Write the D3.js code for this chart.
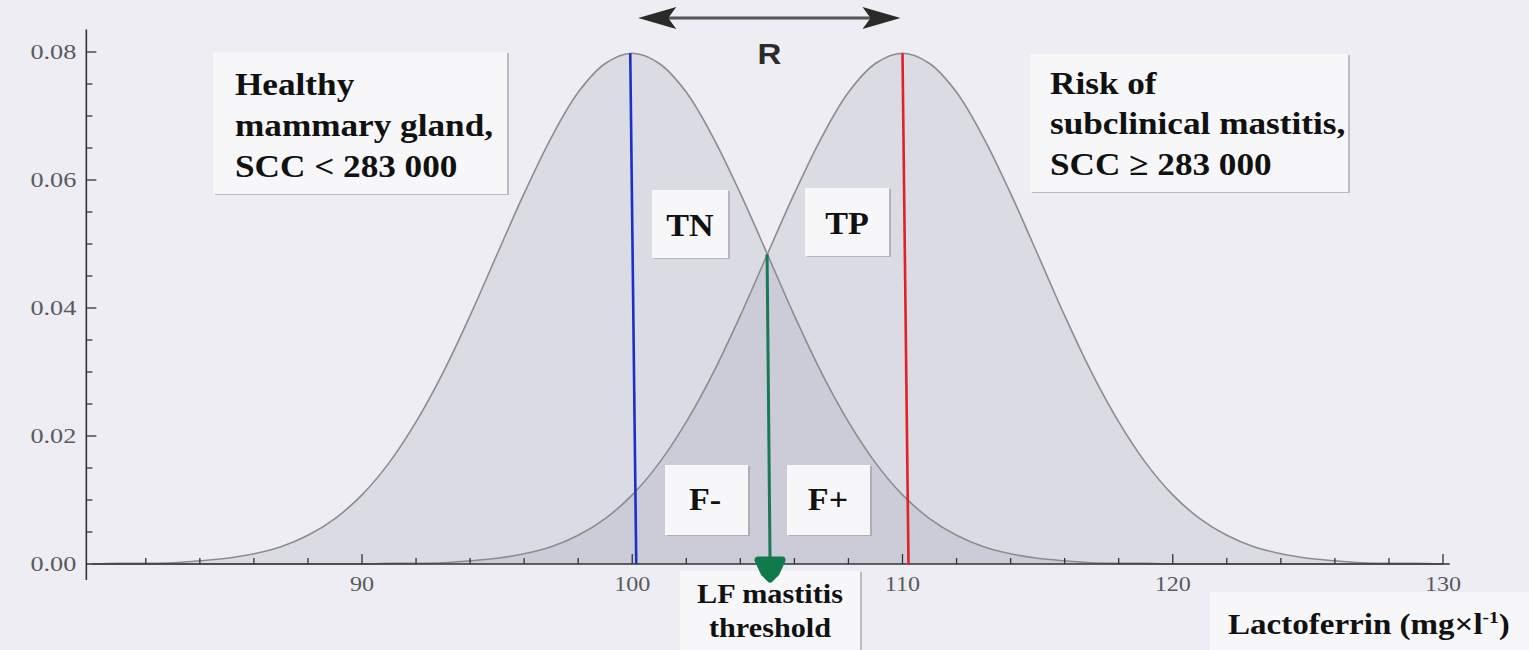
<!DOCTYPE html>
<html lang="en">
<head>
    <meta charset="UTF-8">
    <title>Lactoferrin threshold</title>
    <script src="https://cdn.jsdelivr.net/npm/d3@7"></script>
    <style>
        body { margin: 0; background: #ededf3; }
        svg { display: block; }
        .tick-label { font-family: "Liberation Serif", "DejaVu Serif", serif; fill: #5a5a5e; font-size: 21px; }
        .box-text { font-family: "Liberation Serif", serif; font-weight: bold; fill: #111; }
    </style>
</head>
<body>
<div id="chart"></div>

<script>
    // x grid (mg/l) and the two density curves
    const lactoferrin = d3.range(80, 131);
    const healthy = [
        0.0000, 0.0001, 0.0001, 0.0002, 0.0005, 0.0009, 0.0016, 0.0027, 0.0045, 0.0071,
        0.0108, 0.0158, 0.0222, 0.0299, 0.0388, 0.0484, 0.0579, 0.0666, 0.0737, 0.0782,
        0.0798, 0.0782, 0.0737, 0.0666, 0.0579, 0.0484, 0.0388, 0.0299, 0.0222, 0.0158,
        0.0108, 0.0071, 0.0045, 0.0027, 0.0016, 0.0009, 0.0005, 0.0002, 0.0001, 0.0001,
        0.0000, 0.0000, 0.0000, 0.0000, 0.0000, 0.0000, 0.0000, 0.0000, 0.0000, 0.0000,
        0.0000
    ];
    const mastitis = [
        0.0000, 0.0000, 0.0000, 0.0000, 0.0000, 0.0000, 0.0000, 0.0000, 0.0000, 0.0000,
        0.0000, 0.0001, 0.0001, 0.0002, 0.0005, 0.0009, 0.0016, 0.0027, 0.0045, 0.0071,
        0.0108, 0.0158, 0.0222, 0.0299, 0.0388, 0.0484, 0.0579, 0.0666, 0.0737, 0.0782,
        0.0798, 0.0782, 0.0737, 0.0666, 0.0579, 0.0484, 0.0388, 0.0299, 0.0222, 0.0158,
        0.0108, 0.0071, 0.0045, 0.0027, 0.0016, 0.0009, 0.0005, 0.0002, 0.0001, 0.0001,
        0.0000
    ];
    const xTicks = [90, 100, 110, 120, 130];
    const yTicks = [0, 0.02, 0.04, 0.06, 0.08];
    const healthyMean = 100;
    const mastitisMean = 110;
    const threshold = 105.1;
    const thresholdDensity = 0.0484;

    const width = 1529, height = 650;
    const SX = 1.15; // the scan is stretched sideways a little
    const svg = d3.select("#chart").append("svg")
        .attr("width", width).attr("height", height);

    const x = d3.scaleLinear().domain([90, 130]).range([362, 1443]);
    const y = d3.scaleLinear().domain([0, 0.08]).range([564, 52]);
    const x0 = 79.8;

    // curves
    function areaFor(vals) {
        return d3.area()
            .x((d, i) => x(lactoferrin[i]))
            .y0(y(0))
            .y1(d => y(d))
            .curve(d3.curveCatmullRom)(vals);
    }
    function lineFor(vals) {
        return d3.line()
            .x((d, i) => x(lactoferrin[i]))
            .y(d => y(d))
            .curve(d3.curveCatmullRom)(vals);
    }

    [healthy, mastitis].forEach(function (vals) {
        svg.append("path").attr("d", areaFor(vals))
            .attr("fill", "#8a8aa0").attr("fill-opacity", 0.18);
    });
    [healthy, mastitis].forEach(function (vals) {
        svg.append("path").attr("d", lineFor(vals))
            .attr("fill", "none").attr("stroke", "#8c8c90").attr("stroke-width", 1.6);
    });

    // axes
    const axisG = svg.append("g").attr("stroke", "#333").attr("stroke-width", 1.6);
    axisG.append("line").attr("x1", x(x0)).attr("x2", x(130.25))
        .attr("y1", y(0)).attr("y2", y(0));
    axisG.append("line").attr("x1", x(x0)).attr("x2", x(x0))
        .attr("y1", y(0.0835)).attr("y2", y(0) + 16);

    axisG.selectAll("line.xt").data(d3.range(82, 131, 2)).enter().append("line")
        .attr("class", "xt")
        .attr("x1", d => x(d)).attr("x2", d => x(d))
        .attr("y1", y(0)).attr("y2", d => y(0) - (d % 10 === 0 ? 10 : 6))
        .attr("stroke-width", 1.3);
    axisG.selectAll("line.yt").data(d3.range(0.005, 0.0801, 0.005)).enter().append("line")
        .attr("class", "yt")
        .attr("y1", d => y(d)).attr("y2", d => y(d))
        .attr("x1", x(x0)).attr("x2", (d, i) => x(x0) + ((i + 1) % 4 === 0 ? 10 : 6))
        .attr("stroke-width", 1.3);

    svg.selectAll("text.xl").data(xTicks).enter().append("text")
        .attr("class", "tick-label")
        .attr("text-anchor", "middle")
        .attr("transform", d => "translate(" + x(d) + "," + (y(0) + 27) + ") scale(" + SX + ",1)")
        .text(d => d);
    svg.selectAll("text.yl").data(yTicks).enter().append("text")
        .attr("class", "tick-label")
        .attr("text-anchor", "end")
        .attr("transform", d => "translate(" + (x(x0) - 10) + "," + (y(d) + 7) + ") scale(1.25,1)")
        .text(d => d.toFixed(2));

    // mean and threshold lines
    svg.append("line")
        .attr("x1", x(healthyMean) - 2).attr("y1", y(0.0798))
        .attr("x2", x(healthyMean) + 4).attr("y2", y(0))
        .attr("stroke", "#1c2fc8").attr("stroke-width", 2.6);
    svg.append("line")
        .attr("x1", x(mastitisMean)).attr("y1", y(0.0798))
        .attr("x2", x(mastitisMean) + 6).attr("y2", y(0))
        .attr("stroke", "#e0202a").attr("stroke-width", 2.6);
    svg.append("line")
        .attr("x1", x(threshold) - 3).attr("y1", y(thresholdDensity))
        .attr("x2", x(threshold)).attr("y2", y(0))
        .attr("stroke", "#177a55").attr("stroke-width", 3);

    // R arrow between the two means
    const ay = 18;
    const rx1 = x(healthyMean) + 6, rx2 = x(mastitisMean) - 2;
    svg.append("line").attr("x1", rx1 + 20).attr("x2", rx2 - 20)
        .attr("y1", ay).attr("y2", ay).attr("stroke", "#555").attr("stroke-width", 3);
    svg.append("path")
        .attr("d", "M" + rx1 + "," + ay + " L" + (rx1 + 38) + "," + (ay - 11) + " L" + (rx1 + 30) + "," + ay +
            " L" + (rx1 + 38) + "," + (ay + 11) + " Z")
        .attr("fill", "#2a2a2a");
    svg.append("path")
        .attr("d", "M" + rx2 + "," + ay + " L" + (rx2 - 38) + "," + (ay - 11) + " L" + (rx2 - 30) + "," + ay +
            " L" + (rx2 - 38) + "," + (ay + 11) + " Z")
        .attr("fill", "#2a2a2a");
    svg.append("text")
        .attr("transform", "translate(" + ((rx1 + rx2) / 2) + ",64) scale(1.1,1)")
        .attr("text-anchor", "middle")
        .style("font-family", "'Liberation Sans', Arial, sans-serif")
        .style("font-weight", "bold").style("font-size", "30px")
        .attr("fill", "#2b2b2b")
        .text("R");

    // label boxes: lines = [text, baseline offset]
    function box(bx, by, w, h, lines, size, tx0, sx, align) {
        const g = svg.append("g");
        g.append("rect").attr("x", bx + 2).attr("y", by + 1).attr("width", w).attr("height", h)
            .attr("fill", "#9a9aa0").attr("opacity", 0.6);
        g.append("rect").attr("x", bx).attr("y", by).attr("width", w).attr("height", h)
            .attr("fill", "#f7f7f9");
        return lines.map(function (l) {
            return g.append("text").attr("class", "box-text")
                .attr("text-anchor", align)
                .attr("transform", "translate(" + (bx + tx0) + "," + (by + l[1]) + ") scale(" + sx + ",1)")
                .style("font-size", size + "px")
                .text(l[0]);
        });
    }

    box(213, 52, 294, 142, [["Healthy", 43], ["mammary gland,", 84], ["SCC < 283 000", 125]], 32, 22, 1.1, "start");
    box(1030, 54, 318, 138, [["Risk of", 40], ["subclinical mastitis,", 80], ["SCC \u2265 283 000", 121]], 32, 20, 1.1, "start");
    box(652, 190, 76, 68, [["TN", 46]], 31, 38, 1.1, "middle");
    box(805, 188, 84, 68, [["TP", 46]], 31, 42, 1.1, "middle");
    box(665, 465, 83, 70, [["F-", 45]], 31, 40, 1.1, "middle");
    box(787, 465, 83, 70, [["F+", 45]], 31, 41, 1.1, "middle");
    box(680, 571, 180, 79, [["LF mastitis", 32], ["threshold", 66]], 27, 90, 1.12, "middle");
    const unit = box(1210, 592, 319, 58, [["Lactoferrin (mg\u00d7l", 42]], 29, 18, 1.14, "start")[0];

    // superscript for the unit
    unit.append("tspan").attr("dy", -11).style("font-size", "17px").text("-1");
    unit.append("tspan").attr("dy", 11).text(")");

    // green arrow head sits on top of the threshold box
    const tx = x(threshold);
    svg.append("path")
        .attr("d", "M" + (tx - 12) + "," + (y(0) - 4) + " L" + (tx + 12) + "," + (y(0) - 4) +
            " L" + (tx + 6) + "," + (y(0) + 9) + " L" + tx + "," + (y(0) + 15) +
            " L" + (tx - 6) + "," + (y(0) + 9) + " Z")
        .attr("fill", "#107a4c").attr("stroke", "#107a4c").attr("stroke-width", 7)
        .attr("stroke-linejoin", "round");
</script>
</body>
</html>
